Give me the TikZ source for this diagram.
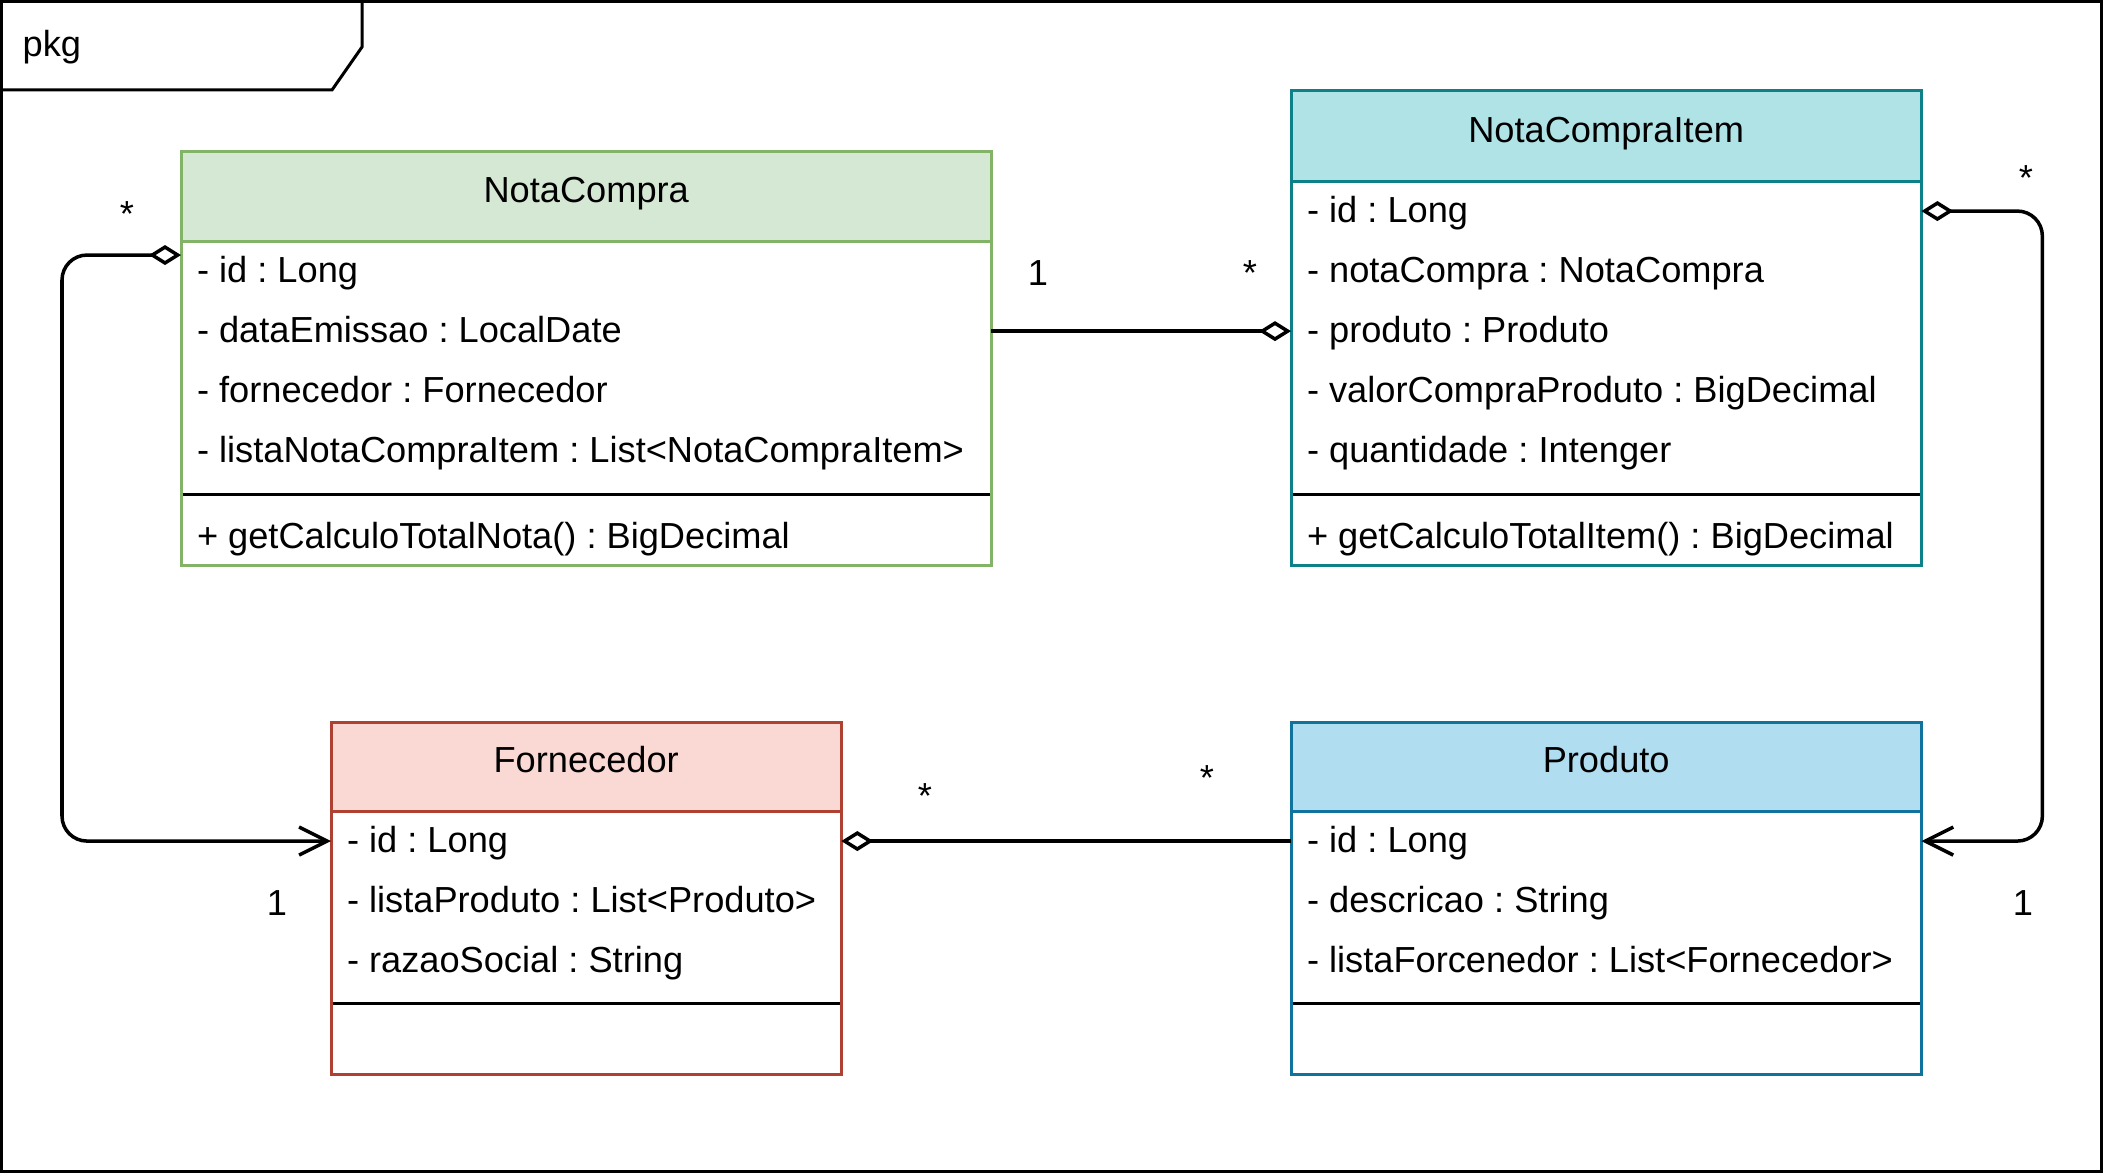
\documentclass[tikz,border=0pt]{standalone}
\usepackage{fontspec}
\setmainfont{Liberation Sans}
\usetikzlibrary{positioning,calc,arrows.meta}

\definecolor{ncfill}{HTML}{D5E8D4}
\definecolor{ncline}{HTML}{82B366}
\definecolor{ncifill}{HTML}{B0E3E6}
\definecolor{nciline}{HTML}{0E8088}
\definecolor{fofill}{HTML}{FAD9D5}
\definecolor{foline}{HTML}{AE4132}
\definecolor{prfill}{HTML}{B1DDF0}
\definecolor{prline}{HTML}{10739E}

\tikzset{
    odiamond/.tip={Diamond[open, length=0.32cm, width=0.2cm]},
    navarrow/.tip={Straight Barb[length=0.28cm, width=0.28cm]}
}

\begin{document}
\frenchspacing
\begin{tikzpicture}[
    x=0.01cm, y=-0.01cm,
    font=\fontsize{10.3}{12}\selectfont,
    frame/.style={line width=0.03cm},
    classbox/.style={rectangle, draw, fill=white, line width=0.03cm, anchor=north west, inner sep=0, outer sep=0},
    classhead/.style={classbox, text height=0.25cm, text depth=0.125cm},
    attr/.style={inner sep=0, outer sep=0, text height=0.41cm, text depth=0.19cm},
    sepline/.style={line width=0.03cm, shorten <=0.015cm, shorten >=0.015cm},
    link/.style={line width=0.035cm, rounded corners=0.25cm},
    mult/.style={anchor=base, inner sep=0}
]
    \useasboundingbox (0,0) rectangle (2103,1173);

    % package frame
    \draw[frame] (1.5,1.5) rectangle (2101.5,1171.5);
    \draw[frame] (1.5,90) -- (332,90) -- (362,47) -- (362,1.5);
    \node[anchor=base west, inner sep=0] (pkg) at (22,57) {pkg};

    % NotaCompra
    \node[classbox, draw=ncline, minimum width=8.1cm, minimum height=4.13cm] (notacompra) at (181,152) {};
    \node[classhead, draw=ncline, fill=ncfill, minimum width=8.1cm, minimum height=0.89cm] (nc-head) at (notacompra.north west) {NotaCompra};
    \node[attr, below right=0pt and 0.16cm of nc-head.south west] (nc-id) {- id : Long};
    \node[attr, below right=0pt of nc-id.south west] (nc-data) {- dataEmissao : LocalDate};
    \node[attr, below right=0pt of nc-data.south west] (nc-forn) {- fornecedor : Fornecedor};
    \node[attr, below right=0pt of nc-forn.south west] (nc-lista) {- listaNotaCompraItem : List<NotaCompraItem>};
    \coordinate[below=0.13cm of nc-lista.south] (nc-sep);
    \node[attr, below right=0.26cm and 0pt of nc-lista.south west] (nc-calc) {+ getCalculoTotalNota() : BigDecimal};
    \draw[sepline] (notacompra.west |- nc-sep) -- (notacompra.east |- nc-sep);

    % NotaCompraItem
    \node[classbox, draw=nciline, minimum width=6.3cm, minimum height=4.74cm] (nci) at (1291,91) {};
    \node[classhead, draw=nciline, fill=ncifill, minimum width=6.3cm, minimum height=0.9cm] (nci-head) at (nci.north west) {NotaCompraItem};
    \node[attr, below right=0pt and 0.16cm of nci-head.south west] (nci-id) {- id : Long};
    \node[attr, below right=0pt of nci-id.south west] (nci-nota) {- notaCompra : NotaCompra};
    \node[attr, below right=0pt of nci-nota.south west] (nci-prod) {- produto : Produto};
    \node[attr, below right=0pt of nci-prod.south west] (nci-valor) {- valorCompraProduto : BigDecimal};
    \node[attr, below right=0pt of nci-valor.south west] (nci-qtd) {- quantidade : Intenger};
    \coordinate[below=0.13cm of nci-qtd.south] (nci-sep);
    \node[attr, below right=0.26cm and 0pt of nci-qtd.south west] (nci-calc) {+ getCalculoTotalItem() : BigDecimal};
    \draw[sepline] (nci.west |- nci-sep) -- (nci.east |- nci-sep);

    % Fornecedor
    \node[classbox, draw=foline, minimum width=5.1cm, minimum height=3.52cm] (fornecedor) at (331,722) {};
    \node[classhead, draw=foline, fill=fofill, minimum width=5.1cm, minimum height=0.89cm] (fo-head) at (fornecedor.north west) {Fornecedor};
    \node[attr, below right=0pt and 0.16cm of fo-head.south west] (fo-id) {- id : Long};
    \node[attr, below right=0pt of fo-id.south west] (fo-lista) {- listaProduto : List<Produto>};
    \node[attr, below right=0pt of fo-lista.south west] (fo-razao) {- razaoSocial : String};
    \coordinate[below=0.12cm of fo-razao.south] (fo-sep);
    \draw[sepline] (fornecedor.west |- fo-sep) -- (fornecedor.east |- fo-sep);

    % Produto
    \node[classbox, draw=prline, minimum width=6.3cm, minimum height=3.52cm] (produto) at (1291,722) {};
    \node[classhead, draw=prline, fill=prfill, minimum width=6.3cm, minimum height=0.89cm] (pr-head) at (produto.north west) {Produto};
    \node[attr, below right=0pt and 0.16cm of pr-head.south west] (pr-id) {- id : Long};
    \node[attr, below right=0pt of pr-id.south west] (pr-desc) {- descricao : String};
    \node[attr, below right=0pt of pr-desc.south west] (pr-lista) {- listaForcenedor : List<Fornecedor>};
    \coordinate[below=0.12cm of pr-lista.south] (pr-sep);
    \draw[sepline] (produto.west |- pr-sep) -- (produto.east |- pr-sep);

    % associations
    \coordinate (nc-agg) at ($(nc-head.south west)+(0,14)$);
    \draw[link, -{odiamond}] (notacompra.east |- nc-data) -- (nci.west |- nc-data);
    \draw[link, {odiamond}-{navarrow}] (nc-agg) -- ++(-119,0) |- (fornecedor.west |- fo-id);
    \draw[link, {odiamond}-{navarrow}] (nci.east |- nci-id) -- ++(121,0) |- (produto.east |- pr-id);
    \draw[link, -{odiamond}] (produto.west |- pr-id) -- (fornecedor.east |- fo-id);

    % multiplicities
    \node[mult] (m-nc-nci) at (1038,285) {1};
    \node[mult] (m-nci-nc) at (1250,285) {*};
    \node[mult] (m-nc-fo) at (127,226) {*};
    \node[mult] (m-fo-nc) at (277,915) {1};
    \node[mult] (m-nci-pr) at (2026,191) {*};
    \node[mult] (m-pr-nci) at (2023,915) {1};
    \node[mult] (m-fo-pr) at (925,808) {*};
    \node[mult] (m-pr-fo) at (1207,790) {*};
\end{tikzpicture}
\end{document}
